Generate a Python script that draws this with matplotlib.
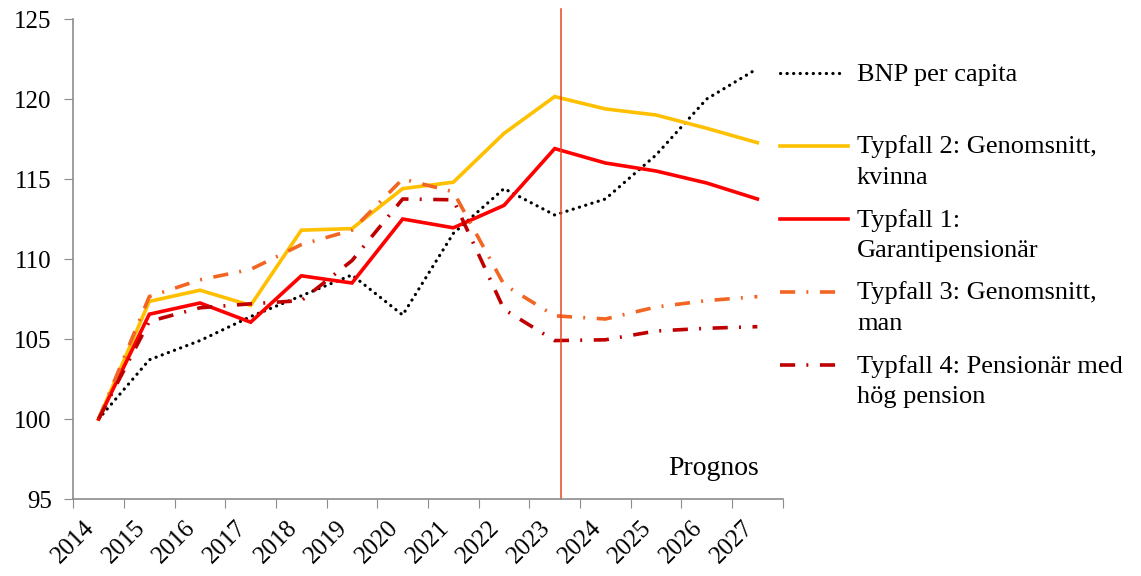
import numpy as np
import matplotlib
matplotlib.use("Agg")
import matplotlib.pyplot as plt
from matplotlib.lines import Line2D

# Index 2014 = 100
ar = ["2014", "2015", "2016", "2017", "2018", "2019", "2020",
      "2021", "2022", "2023", "2024", "2025", "2026", "2027"]

bnp = [100, 103.7, 104.9, 106.4, 107.7, 109.0, 106.5,
       111.6, 114.4, 112.75, 113.75, 116.5, 120.0, 121.9]
typfall2 = [100, 107.35, 108.05, 107.1, 111.8, 111.9, 114.4,
            114.8, 117.85, 120.15, 119.38, 119.0, 118.17, 117.27]
typfall1 = [100, 106.55, 107.25, 106.05, 108.95, 108.5, 112.5,
            111.95, 113.35, 116.9, 116.0, 115.5, 114.75, 113.75]
typfall3 = [100, 107.65, 108.7, 109.35, 110.9, 111.8, 115.0,
            114.2, 108.4, 106.45, 106.25, 107.0, 107.4, 107.65]
typfall4 = [100, 106.1, 106.95, 107.2, 107.4, 109.9, 113.75,
            113.7, 106.85, 104.9, 104.95, 105.5, 105.67, 105.77]

etiketter = [["BNP per capita"],
             ["Typfall 2: Genomsnitt,", "kvinna"],
             ["Typfall 1:", "Garantipensionär"],
             ["Typfall 3: Genomsnitt,", "man"],
             ["Typfall 4: Pensionär med", "hög pension"]]

prognos_start = 9.12  # strax efter 2023

plt.rcParams['font.family'] = ['Liberation Serif', 'DejaVu Serif']
plt.rcParams['font.size'] = 18

W, H = 1141, 576
fig = plt.figure(figsize=(W / 100, H / 100), dpi=100)
ax = fig.add_axes([73.3 / W, 1 - 499 / H, 709.4 / W, 480 / H])

x = np.arange(len(ar))
dashdot = (0, (4.2, 3.1, 0.55, 3.2))
serier = [
    (bnp, dict(color="black", lw=2.3, linestyle=(0, (0.05, 2.0)),
               dash_capstyle="round")),
    (typfall2, dict(color="#FFC000", lw=2.6)),
    (typfall1, dict(color="#FF0000", lw=2.6)),
    (typfall3, dict(color="#F26522", lw=2.6, linestyle=dashdot)),
    (typfall4, dict(color="#C00000", lw=2.6, linestyle=dashdot)),
]
for data, stil in serier:
    ax.plot(x, data, solid_joinstyle="miter", **stil)

# Prognoslinje
ax.axvline(prognos_start, ymin=0, ymax=1.021, color="#E8461E", lw=1.1,
           clip_on=False)
ax.text(13.03, 96.5, "Prognos", ha="right", va="baseline", fontsize=20)

ax.set_xlim(-0.5, len(ar) - 0.5)
ax.set_ylim(95, 125)
ax.set_yticks(np.arange(95, 126, 5))

# Kategoriaxel: streck mellan åren, etiketter mitt på
ax.set_xticks(np.arange(-0.5, len(ar), 1.0))
ax.set_xticklabels([])
ax.set_xticks(x, minor=True)
ax.set_xticklabels(ar, minor=True, rotation=45, ha="right", va="top")
ax.tick_params(axis="x", which="minor", length=0, pad=13)
ax.tick_params(axis="x", which="major", length=6.5, color="#8C8C8C")
ax.tick_params(axis="y", length=6.5, color="#8C8C8C", pad=9)

for s in ["top", "right"]:
    ax.spines[s].set_visible(False)
for s in ["left", "bottom"]:
    ax.spines[s].set_color("#8C8C8C")
    ax.spines[s].set_linewidth(1.2)

# Förklaring till höger om diagrammet
slut = [845, 848, 848, 837, 837]
for i, (rader, (data, stil)) in enumerate(zip(etiketter, serier)):
    ypix = 73 + 73 * i
    yf = 1 - ypix / H
    fig.add_artist(Line2D([780 / W, slut[i] / W], [yf, yf],
                          transform=fig.transFigure, **stil))
    for j, rad in enumerate(rader):
        fig.text(857 / W, 1 - (ypix + 7.5 + 30.5 * j) / H, rad,
                 ha="left", va="baseline", fontsize=19)

fig.savefig("out.png", dpi=100)
